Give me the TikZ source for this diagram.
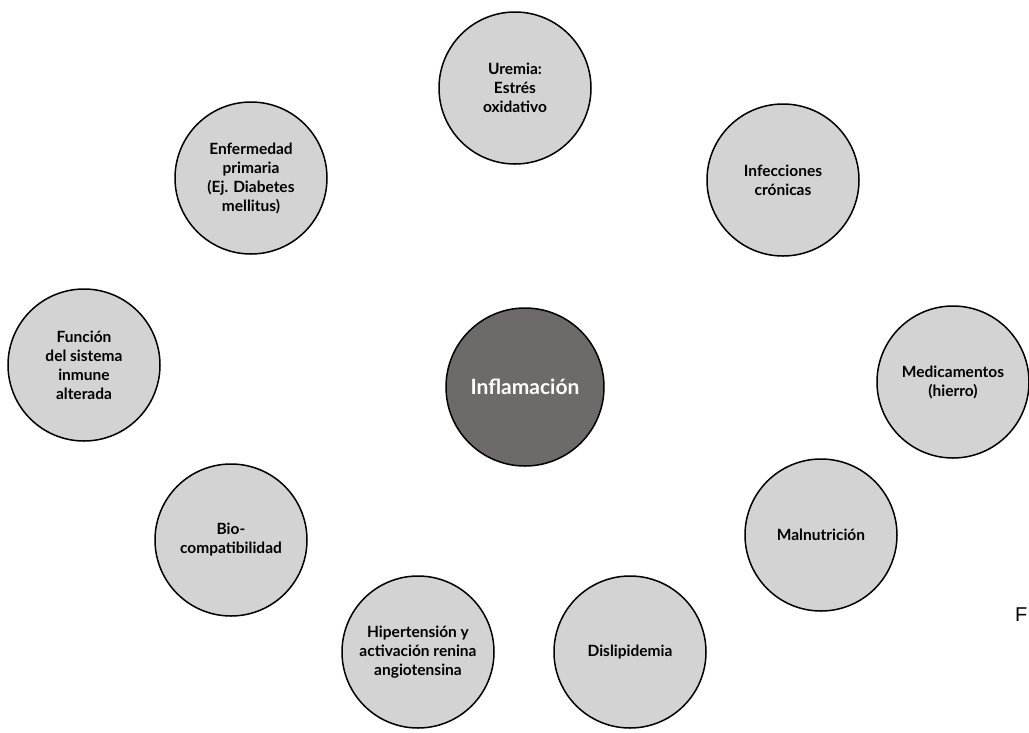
\documentclass[tikz,border=0pt]{standalone}
\usepackage{fontspec}
\setmainfont{Lato}
\newfontfamily\notefont{Liberation Sans}
\begin{document}
\begin{tikzpicture}[x=1pt, y=-1pt,
    bubble/.style={draw=black, line width=1.5pt, circle, fill=bubblegray,
      minimum size=152pt, inner sep=0pt, align=center,
      font=\bfseries\fontsize{15.5}{19}\selectfont},
    core/.style={bubble, fill=coregray, text=white, minimum size=158pt,
      font=\bfseries\fontsize{21}{24}\selectfont}]
  \definecolor{bubblegray}{HTML}{D3D3D3}
  \definecolor{coregray}{HTML}{6E6A6A}
  \useasboundingbox (0,0) rectangle (1029,732);

  % Center
  \node[core] (inflamacion) at (525,387) {Inflamación};

  % Surrounding factors
  \node[bubble] (uremia) at (515,88) {Uremia:\\ Estrés\\ oxidativo};
  \node[bubble] (enfermedad) at (251,178) {Enfermedad\\ primaria\\ (Ej. Diabetes\\ mellitus)};
  \node[bubble] (infecciones) at (783,180) {Infecciones\\ crónicas};
  \node[bubble] (funcion) at (84,365) {Función\\ del sistema\\ inmune\\ alterada};
  \node[bubble] (medicamentos) at (953,382) {Medicamentos\\ (hierro)};
  \node[bubble] (bio) at (231,540) {Bio-\\ compatibilidad};
  \node[bubble] (malnutricion) at (821,535) {Malnutrición};
  \node[bubble] (hipertension) at (418,652) {Hipertensión y\\ activación renina\\ angiotensina};
  \node[bubble] (dislipidemia) at (630,652) {Dislipidemia};

  % Cut-off note at the right edge
  \node[anchor=base west, inner sep=0pt, font=\notefont\fontsize{20}{24}\selectfont]
    (nota) at (1015,621) {F};
\end{tikzpicture}
\end{document}
